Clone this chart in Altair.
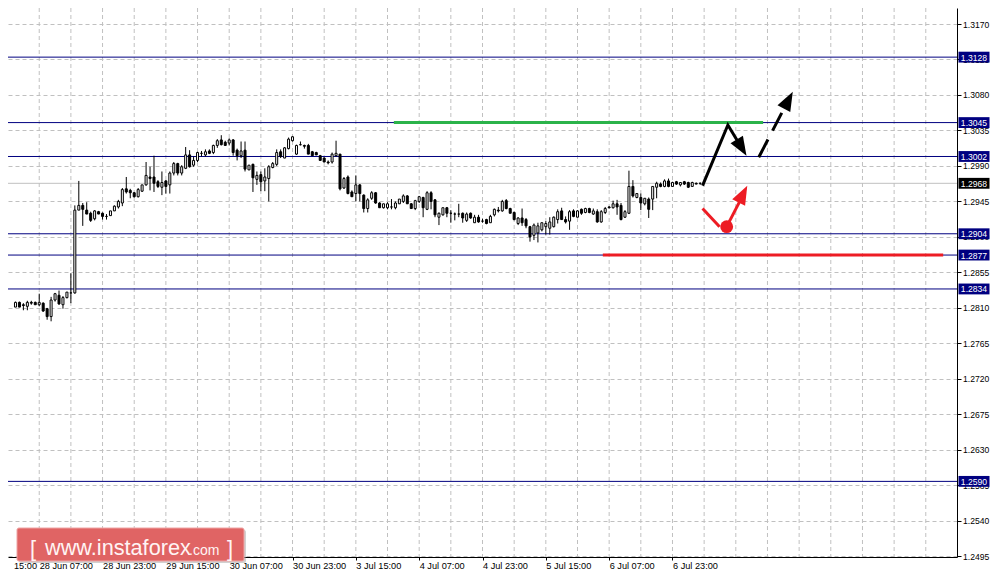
import json
import altair as alt
import pandas as pd

# ---------------- data (hourly GBP/USD candles) ----------------
opens = [1.2828, 1.2815, 1.2811, 1.2817, 1.2814, 1.2812, 1.2817, 1.2817, 1.2814, 1.2816,
         1.2809, 1.2799, 1.2820, 1.2826, 1.2814, 1.2823, 1.2829, 1.2829, 1.2934, 1.2940,
         1.2934, 1.2930, 1.2923, 1.2932, 1.2930, 1.2926, 1.2927, 1.2933, 1.2938, 1.2943,
         1.2961, 1.2959, 1.2956, 1.2951, 1.2958, 1.2966, 1.2976, 1.2976, 1.2970, 1.2963,
         1.2971, 1.2966, 1.2981, 1.2993, 1.2981, 1.2987, 1.3004, 1.2991, 1.2997, 1.3006,
         1.3004, 1.3009, 1.3007, 1.3016, 1.3023, 1.3020, 1.3019, 1.3023, 1.3010, 1.3003,
         1.3010, 1.2985, 1.2992, 1.2973, 1.2979, 1.2971, 1.2974, 1.2988, 1.2992, 1.3008,
         1.3000, 1.3012, 1.3022, 1.3005, 1.3017, 1.3016, 1.3016, 1.3008, 1.3007, 1.3003,
         1.3000, 1.2995, 1.2995, 1.3003, 1.3005, 1.2962, 1.2976, 1.2957, 1.2955, 1.2966,
         1.2953, 1.2936, 1.2949, 1.2956, 1.2943, 1.2937, 1.2937, 1.2938, 1.2937, 1.2942,
         1.2945, 1.2952, 1.2942, 1.2936, 1.2945, 1.2950, 1.2935, 1.2956, 1.2947, 1.2925,
         1.2928, 1.2937, 1.2930, 1.2929, 1.2929, 1.2930, 1.2921, 1.2930, 1.2918, 1.2925,
         1.2920, 1.2922, 1.2918, 1.2928, 1.2934, 1.2933, 1.2946, 1.2936, 1.2931, 1.2917,
         1.2924, 1.2922, 1.2913, 1.2902, 1.2905, 1.2909, 1.2913, 1.2911, 1.2913, 1.2922,
         1.2933, 1.2922, 1.2920, 1.2933, 1.2925, 1.2935, 1.2931, 1.2936, 1.2929, 1.2932,
         1.2919, 1.2931, 1.2938, 1.2937, 1.2942, 1.2940, 1.2925, 1.2930, 1.2964, 1.2950,
         1.2950, 1.2942, 1.2948, 1.2948, 1.2963, 1.2967, 1.2964, 1.2971, 1.2964, 1.2970,
         1.2966, 1.2970, 1.2969, 1.2964, 1.2968, 1.2968]
highs = [1.2829, 1.2816, 1.2818, 1.2818, 1.2816, 1.2819, 1.2819, 1.2818, 1.2828, 1.2817,
         1.2810, 1.2824, 1.2829, 1.2832, 1.2825, 1.2830, 1.2854, 1.2940, 1.2971, 1.2943,
         1.2944, 1.2932, 1.2934, 1.2933, 1.2931, 1.2929, 1.2933, 1.2940, 1.2947, 1.2962,
         1.2976, 1.2961, 1.2957, 1.2962, 1.2966, 1.2995, 1.2989, 1.3003, 1.2972, 1.2983,
         1.2972, 1.2983, 1.2995, 1.2994, 1.2991, 1.3014, 1.3010, 1.3002, 1.3008, 1.3009,
         1.3011, 1.3011, 1.3017, 1.3024, 1.3029, 1.3022, 1.3025, 1.3024, 1.3012, 1.3021,
         1.3021, 1.2991, 1.2993, 1.2983, 1.2983, 1.2987, 1.2991, 1.2995, 1.3011, 1.3011,
         1.3014, 1.3026, 1.3028, 1.3017, 1.3021, 1.3017, 1.3018, 1.3009, 1.3008, 1.3004,
         1.3001, 1.2997, 1.3007, 1.3022, 1.3005, 1.2976, 1.2978, 1.2959, 1.2978, 1.2967,
         1.2954, 1.2949, 1.2958, 1.2957, 1.2944, 1.2942, 1.2944, 1.2948, 1.2945, 1.2948,
         1.2954, 1.2953, 1.2943, 1.2947, 1.2952, 1.2951, 1.2958, 1.2958, 1.2948, 1.2931,
         1.2937, 1.2938, 1.2934, 1.2931, 1.2942, 1.2931, 1.2931, 1.2931, 1.2928, 1.2928,
         1.2923, 1.2923, 1.2928, 1.2936, 1.2938, 1.2947, 1.2948, 1.2937, 1.2932, 1.2925,
         1.2936, 1.2924, 1.2914, 1.2917, 1.2918, 1.2918, 1.2920, 1.2925, 1.2926, 1.2935,
         1.2937, 1.2926, 1.2934, 1.2935, 1.2934, 1.2936, 1.2937, 1.2937, 1.2936, 1.2935,
         1.2934, 1.2938, 1.2939, 1.2946, 1.2947, 1.2943, 1.2934, 1.2984, 1.2972, 1.2955,
         1.2955, 1.2949, 1.2950, 1.2964, 1.2970, 1.2969, 1.2973, 1.2974, 1.2970, 1.2971,
         1.2969, 1.2971, 1.2970, 1.2970, 1.2969, 1.2969]
lows = [1.2810, 1.2810, 1.2811, 1.2811, 1.2807, 1.2807, 1.2814, 1.2814, 1.2812, 1.2805,
        1.2795, 1.2793, 1.2818, 1.2814, 1.2809, 1.2822, 1.2816, 1.2828, 1.2934, 1.2914,
        1.2929, 1.2919, 1.2921, 1.2929, 1.2922, 1.2922, 1.2927, 1.2933, 1.2936, 1.2939,
        1.2955, 1.2949, 1.2950, 1.2950, 1.2957, 1.2965, 1.2959, 1.2957, 1.2962, 1.2953,
        1.2955, 1.2955, 1.2978, 1.2978, 1.2978, 1.2986, 1.2988, 1.2989, 1.2995, 1.3002,
        1.3002, 1.3005, 1.3005, 1.3013, 1.3016, 1.3016, 1.3016, 1.3003, 1.2997, 1.3000,
        1.2983, 1.2985, 1.2957, 1.2966, 1.2958, 1.2958, 1.2945, 1.2987, 1.2990, 1.3000,
        1.3000, 1.3011, 1.3021, 1.3004, 1.3016, 1.3012, 1.3005, 1.3003, 1.3004, 1.2997,
        1.2995, 1.2992, 1.2993, 1.3002, 1.2959, 1.2961, 1.2954, 1.2951, 1.2945, 1.2945,
        1.2931, 1.2931, 1.2947, 1.2942, 1.2937, 1.2936, 1.2935, 1.2935, 1.2935, 1.2942,
        1.2943, 1.2942, 1.2936, 1.2934, 1.2943, 1.2925, 1.2934, 1.2935, 1.2925, 1.2915,
        1.2927, 1.2925, 1.2918, 1.2921, 1.2925, 1.2918, 1.2919, 1.2923, 1.2918, 1.2918,
        1.2918, 1.2916, 1.2918, 1.2926, 1.2931, 1.2932, 1.2935, 1.2930, 1.2921, 1.2915,
        1.2914, 1.2911, 1.2894, 1.2896, 1.2893, 1.2907, 1.2903, 1.2903, 1.2912, 1.2917,
        1.2922, 1.2917, 1.2909, 1.2925, 1.2925, 1.2928, 1.2930, 1.2930, 1.2928, 1.2918,
        1.2918, 1.2929, 1.2936, 1.2936, 1.2928, 1.2921, 1.2924, 1.2929, 1.2950, 1.2949,
        1.2934, 1.2940, 1.2924, 1.2934, 1.2949, 1.2963, 1.2963, 1.2963, 1.2964, 1.2966,
        1.2964, 1.2966, 1.2962, 1.2964, 1.2967, 1.2966]
closes = [1.2814, 1.2811, 1.2817, 1.2811, 1.2813, 1.2817, 1.2816, 1.2814, 1.2817, 1.2806,
          1.2799, 1.2820, 1.2828, 1.2815, 1.2823, 1.2830, 1.2829, 1.2934, 1.2940, 1.2935,
          1.2929, 1.2921, 1.2933, 1.2929, 1.2926, 1.2926, 1.2933, 1.2939, 1.2945, 1.2960,
          1.2957, 1.2956, 1.2951, 1.2960, 1.2966, 1.2978, 1.2974, 1.2968, 1.2964, 1.2969,
          1.2964, 1.2981, 1.2993, 1.2981, 1.2989, 1.3004, 1.2989, 1.2997, 1.3007, 1.3006,
          1.3008, 1.3006, 1.3016, 1.3022, 1.3017, 1.3016, 1.3023, 1.3007, 1.3003, 1.3009,
          1.2986, 1.2991, 1.2975, 1.2978, 1.2970, 1.2976, 1.2989, 1.2993, 1.3007, 1.3002,
          1.3013, 1.3024, 1.3027, 1.3016, 1.3017, 1.3015, 1.3005, 1.3003, 1.3004, 1.2997,
          1.2995, 1.2994, 1.3005, 1.3006, 1.2961, 1.2974, 1.2955, 1.2951, 1.2966, 1.2955,
          1.2936, 1.2947, 1.2956, 1.2943, 1.2937, 1.2942, 1.2942, 1.2938, 1.2943, 1.2948,
          1.2952, 1.2942, 1.2936, 1.2946, 1.2951, 1.2937, 1.2956, 1.2945, 1.2928, 1.2930,
          1.2937, 1.2930, 1.2930, 1.2929, 1.2929, 1.2924, 1.2929, 1.2924, 1.2925, 1.2919,
          1.2920, 1.2917, 1.2926, 1.2935, 1.2933, 1.2945, 1.2936, 1.2930, 1.2922, 1.2924,
          1.2918, 1.2914, 1.2900, 1.2915, 1.2914, 1.2918, 1.2917, 1.2919, 1.2925, 1.2932,
          1.2922, 1.2919, 1.2932, 1.2926, 1.2933, 1.2930, 1.2936, 1.2931, 1.2933, 1.2919,
          1.2932, 1.2936, 1.2937, 1.2942, 1.2938, 1.2922, 1.2932, 1.2964, 1.2952, 1.2955,
          1.2943, 1.2949, 1.2935, 1.2964, 1.2968, 1.2964, 1.2971, 1.2964, 1.2969, 1.2967,
          1.2969, 1.2967, 1.2963, 1.2969, 1.2967, 1.2968]

level_prices = [1.3128, 1.3045, 1.3002, 1.2904, 1.2877, 1.2834, 1.2590]
current_price = 1.2968

y_ticks = [1.2495, 1.2540, 1.2585, 1.2630, 1.2675, 1.2720, 1.2765, 1.2810,
           1.2855, 1.2900, 1.2945, 1.2990, 1.3035, 1.3080, 1.3125, 1.3170]
x_label_idx = [8, 24, 40, 56, 72, 88, 104, 120, 136, 152, 168]
x_labels = ["28 Jun 07:00", "28 Jun 23:00", "29 Jun 15:00", "30 Jun 07:00",
            "30 Jun 23:00", "3 Jul 15:00", "4 Jul 07:00", "4 Jul 23:00",
            "5 Jul 15:00", "6 Jul 07:00", "6 Jul 23:00"]
first_partial_label = "15:00"
grid_idx = [8, 16, 24, 32, 40, 48, 56, 64, 72, 80, 88, 96, 104, 112, 120,
            128, 136, 144, 152, 160, 168, 176, 184, 192, 200, 208, 216, 224, 232]

# forecast annotations (candle index, price)
green_i = [97.6, 190.9]
green_p = 1.3045
red_zone_i = [150.4, 236.4]
red_zone_p = 1.2877
black_path_i = [175.6, 182.0, 184.4]
black_path_p = [1.2965, 1.3042, 1.3022]
dash_path_i = [189.8, 196.2]
dash_path_p = [1.3001, 1.3063]
red_path1_i = [175.6, 179.9]
red_path1_p = [1.2936, 1.2913]
red_path2_i = [181.7, 185.0]
red_path2_p = [1.2913, 1.2945]
red_dot_i = [181.7]
red_dot_p = [1.2913]
head_i = [186.7, 198.4, 186.9]
head_p = [1.3003, 1.3084, 1.2965]
head_angle = [149, 28, 27]
head_color = ["#000000", "#000000", "#ed1c24"]

# ---------------- chart ----------------
W, H = 949, 549
PAD_R, PAD_B = 33, 15          # room for the right price axis and the time axis
X_MIN, X_MAX = 1.375, 238.625
FONT = "Liberation Sans"
NAVY = "#000080"
RED = "#ed1c24"
GREEN = "#2bb34a"

xs = alt.Scale(domain=[X_MIN, X_MAX], nice=False, zero=False)
ys = alt.Scale(domain=[1.24941, 1.31903], nice=False, zero=False)

label_expr = ("datum.value < 2 ? '%s' : (datum.value %% 16 == 8 ? %s[floor((datum.value - 8) / 16)] : '')"
              % (first_partial_label, json.dumps(x_labels).replace('"', "'")))

x_axis = alt.Axis(
    values=[1.5] + x_label_idx, labelExpr=label_expr, title=None, grid=False,
    orient="bottom", domainColor="black", domainWidth=1, tickColor="black",
    tickSize=3, tickOpacity={"condition": {"test": "datum.value > 2", "value": 1}, "value": 0},
    labelFont=FONT, labelFontSize=9.2, labelColor="black", labelAlign="left",
    labelBaseline="top", labelPadding=1, labelFlush=False, labelOverlap=False,
)
y_axis = alt.Axis(
    values=y_ticks, format=".4f", title=None, orient="right", grid=True,
    gridColor="#c0c0c0", gridDash=[4, 3], gridWidth=1, domainColor="black",
    domainWidth=1, tickColor="black", tickSize=4, labelFont=FONT,
    labelFontSize=8.6, labelColor="black", labelPadding=1.5, labelFlush=False,
    labelOverlap=False, labelBaseline="middle",
)


def X(field="i"):
    return alt.X(f"{field}:Q", scale=xs, axis=x_axis)


def Y(field="p"):
    return alt.Y(f"{field}:Q", scale=ys, axis=y_axis)


candles = pd.DataFrame({"i": list(range(len(closes))), "o": opens, "h": highs,
                        "l": lows, "c": closes})
candles["fillc"] = ["white" if c >= o else "black" for o, c in zip(opens, closes)]
visible = f"datum.i >= {X_MIN + 0.5}"

grid_df = pd.DataFrame({"i": grid_idx})
vgrid = alt.Chart(grid_df).mark_rule(color="#c0c0c0", strokeDash=[4, 3], strokeWidth=1).encode(x=X())

levels_df = pd.DataFrame({"p": level_prices})
level_rules = alt.Chart(levels_df).mark_rule(color=NAVY, strokeWidth=1).encode(y=Y())
cur_df = pd.DataFrame({"p": [current_price]})
cur_rule = alt.Chart(cur_df).mark_rule(color="#c0c0c0", strokeWidth=1).encode(y=Y())

wicks = alt.Chart(candles).transform_filter(visible).mark_rule(
    color="black", strokeWidth=1).encode(x=X(), y=Y("l"), y2="h:Q")
bodies = alt.Chart(candles).transform_filter(visible).mark_bar(
    size=2, stroke="black", strokeWidth=1).encode(
    x=X(), y=Y("o"), y2="c:Q", fill=alt.Fill("fillc:N", scale=None))

green_df = pd.DataFrame({"i": [green_i[0]], "i2": [green_i[1]], "p": [green_p]})
green_line = alt.Chart(green_df).mark_rule(color=GREEN, strokeWidth=3).encode(
    x=X(), x2="i2:Q", y=Y())
redz_df = pd.DataFrame({"i": [red_zone_i[0]], "i2": [red_zone_i[1]], "p": [red_zone_p]})
red_zone = alt.Chart(redz_df).mark_rule(color=RED, strokeWidth=3).encode(
    x=X(), x2="i2:Q", y=Y())


def path_layer(ii, pp, color, dash=None):
    df = pd.DataFrame({"i": ii, "p": pp, "o": list(range(len(ii)))})
    kw = dict(color=color, strokeWidth=3, strokeCap="butt")
    if dash:
        kw["strokeDash"] = dash
    return alt.Chart(df).mark_line(**kw).encode(x=X(), y=Y(), order="o:Q")


black_line = path_layer(black_path_i, black_path_p, "black")
dash_line = path_layer(dash_path_i, dash_path_p, "black", dash=[20, 10])
red_line1 = path_layer(red_path1_i, red_path1_p, RED)
red_line2 = path_layer(red_path2_i, red_path2_p, RED)

dot_df = pd.DataFrame({"i": red_dot_i, "p": red_dot_p})
red_dot = alt.Chart(dot_df).mark_point(shape="circle", filled=True, size=165,
                                       color=RED, opacity=1).encode(x=X(), y=Y())

heads_df = pd.DataFrame({"i": head_i, "p": head_p, "ang": head_angle, "col": head_color})
heads = alt.Chart(heads_df).mark_point(
    shape="M0,0L0.38,1L-0.38,1Z", filled=True, size=1444, opacity=1, strokeWidth=0
).encode(x=X(), y=Y(), angle=alt.Angle("ang:Q", scale=None),
         color=alt.Color("col:N", scale=None))

# price label boxes on the right axis
box_df = pd.DataFrame({
    "p": level_prices + [current_price],
    "txt": [f"{v:.4f}" for v in level_prices + [current_price]],
    "bg": [NAVY] * len(level_prices) + ["black"],
})
boxes = alt.Chart(box_df).mark_point(
    shape="M-1,-0.35L1,-0.35L1,0.35L-1,0.35Z", filled=True, size=961, opacity=1, strokeWidth=0
).encode(x=alt.value(W + 17), y=Y(), color=alt.Color("bg:N", scale=None))
box_txt = alt.Chart(box_df).mark_text(
    color="white", font=FONT, fontSize=8.6, align="center", baseline="middle", dy=0.5
).encode(x=alt.value(W + 17), y=Y(), text="txt:N")

# watermark
one = pd.DataFrame({"k": [0]})
wm_shadow = alt.Chart(one).mark_rect(color="#9a9a9a", opacity=0.45, cornerRadius=2).encode(
    x=alt.value(11), x2=alt.value(238), y=alt.value(522), y2=alt.value(555))
wm_box = alt.Chart(one).mark_rect(fill="#e06464", stroke="#eea4a4", strokeWidth=1,
                                  cornerRadius=2).encode(
    x=alt.value(9), x2=alt.value(236), y=alt.value(520), y2=alt.value(553))
wm_color = "#fff4f4"
wm_l = alt.Chart(one).mark_text(text="[", font=FONT, fontSize=22, color=wm_color,
                                align="left", baseline="alphabetic").encode(
    x=alt.value(22), y=alt.value(548))
wm_main = alt.Chart(one).mark_text(text="www.instaforex", font=FONT, fontSize=21.7,
                                   color=wm_color, align="left", baseline="alphabetic").encode(
    x=alt.value(37), y=alt.value(547))
wm_com = alt.Chart(one).mark_text(text=".com", font=FONT, fontSize=14, color=wm_color,
                                  align="left", baseline="alphabetic").encode(
    x=alt.value(181), y=alt.value(547))
wm_r = alt.Chart(one).mark_text(text="]", font=FONT, fontSize=22, color=wm_color,
                                align="left", baseline="alphabetic").encode(
    x=alt.value(219), y=alt.value(548))

chart = alt.layer(
    vgrid, cur_rule, level_rules, wicks, bodies, green_line, red_zone,
    black_line, dash_line, red_line1, red_line2, red_dot, heads,
    boxes, box_txt, wm_shadow, wm_box, wm_l, wm_main, wm_com, wm_r,
).properties(
    width=W, height=H, background="white",
    autosize=alt.AutoSizeParams(type="none"),
    padding={"left": 0, "top": 0, "right": PAD_R, "bottom": PAD_B},
).configure_view(stroke=None)

chart.save("out.html", embed_options={"renderer": "svg", "actions": False})
